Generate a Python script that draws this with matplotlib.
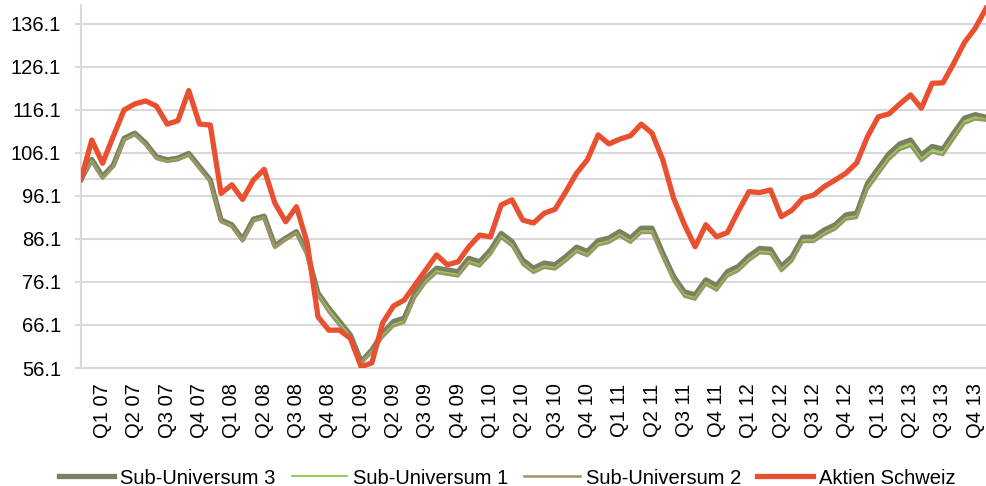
import matplotlib
matplotlib.use("Agg")
import matplotlib.pyplot as plt
import numpy as np

plt.rcParams['font.family'] = ['Liberation Sans', 'DejaVu Sans']

## monthly index values, Dec 06 = 100 ... Dec 13
aktien_schweiz = [100.0, 109.1, 103.7, 110.0, 116.1, 117.5, 118.2, 117.0, 112.8, 113.6,
                  120.6, 112.8, 112.6, 96.7, 98.7, 95.3, 99.8, 102.3, 94.4, 90.1,
                  93.6, 85.1, 68.0, 64.9, 64.9, 63.0, 56.4, 57.3,
                  66.6, 70.5, 71.9, 75.4, 78.9, 82.4, 80.1, 80.8, 84.3, 87.0,
                  86.6, 94.0, 95.2, 90.5, 89.8, 92.1, 93.0, 97.1, 101.4, 104.5,
                  110.3, 108.2, 109.3, 110.1, 112.8, 110.7, 104.5, 95.6, 89.5, 84.3,
                  89.4, 86.6, 87.6, 92.5, 97.1, 96.9, 97.5, 91.3, 92.8, 95.6,
                  96.3, 98.3, 99.8, 101.4, 103.8, 109.9, 114.5, 115.2, 117.5, 119.6,
                  116.5, 122.3, 122.4, 126.9, 131.8, 135.1, 139.7]

sub_universum_3 = [100.0, 104.6, 100.6, 103.3, 109.5, 110.7, 108.4, 105.2, 104.5, 104.9,
                   106.0, 102.9, 99.8, 90.5, 89.4, 86.0, 90.7, 91.4, 84.5, 86.3,
                   87.8, 82.8, 73.5, 70.0, 66.9, 63.8, 57.6, 60.3,
                   64.2, 66.9, 67.7, 73.5, 77.0, 79.3, 78.9, 78.5, 81.6, 80.8,
                   83.5, 87.4, 85.5, 81.2, 79.3, 80.5, 80.1, 82.0, 84.2, 83.2,
                   85.7, 86.3, 87.8, 86.3, 88.6, 88.6, 82.8, 77.4, 73.8, 73.1,
                   76.6, 75.2, 78.5, 79.7, 82.1, 83.9, 83.7, 79.7, 82.0, 86.5,
                   86.5, 88.2, 89.4, 91.7, 92.1, 99.0, 102.5, 105.9, 108.2, 109.1,
                   105.6, 107.6, 107.0, 110.7, 114.2, 115.0, 114.4]

sub_universum_1 = [100.0, 104.3, 100.3, 103.0, 109.2, 110.4, 108.1, 104.9, 104.2, 104.6,
                   105.7, 102.6, 99.5, 90.2, 89.1, 85.7, 90.4, 91.1, 84.2, 86.0,
                   87.5, 82.5, 73.2, 69.6, 66.5, 63.4, 57.3, 60.0,
                   63.6, 66.2, 67.0, 72.8, 76.3, 78.6, 78.2, 77.8, 80.9, 80.1,
                   82.8, 86.7, 84.8, 80.5, 78.6, 79.8, 79.4, 81.3, 83.5, 82.5,
                   85.0, 85.6, 87.1, 85.6, 87.9, 87.9, 82.1, 76.7, 73.1, 72.4,
                   75.9, 74.5, 77.8, 79.0, 81.4, 83.2, 83.0, 79.0, 81.3, 85.8,
                   85.8, 87.5, 88.7, 91.0, 91.4, 98.2, 101.7, 105.1, 107.4, 108.3,
                   104.8, 106.8, 106.2, 109.9, 113.5, 114.4, 113.9]

sub_universum_2 = [100.0, 104.1, 100.1, 102.8, 109.0, 110.2, 107.9, 104.7, 104.0, 104.4,
                   105.5, 102.4, 99.3, 90.0, 88.9, 85.5, 90.2, 90.9, 84.0, 85.8,
                   87.3, 82.3, 72.8, 69.0, 65.9, 62.9, 57.1, 59.7,
                   63.2, 65.8, 66.6, 72.4, 75.9, 78.2, 77.8, 77.4, 80.5, 79.7,
                   82.4, 86.3, 84.4, 80.1, 78.2, 79.4, 79.0, 80.9, 83.1, 82.1,
                   84.6, 85.2, 86.7, 85.2, 87.5, 87.5, 81.7, 76.3, 72.7, 72.0,
                   75.5, 74.1, 77.4, 78.6, 81.0, 82.8, 82.6, 78.6, 80.9, 85.4,
                   85.4, 87.1, 88.3, 90.6, 91.0, 97.6, 101.1, 104.5, 106.8, 107.7,
                   104.2, 106.2, 105.6, 109.3, 112.9, 113.9, 113.6]

quarter_labels = ["Q%d %02d" % (q, y) for y in range(7, 14) for q in range(1, 5)]
y_ticks = [56.1, 66.1, 76.1, 86.1, 96.1, 106.1, 116.1, 126.1, 136.1]

grid_col = "#d9d9d9"

fig = plt.figure(figsize=(9.86, 4.86), dpi=100)
ax = fig.add_axes([81/986, 1-368/486, 905/986, 363/486])

x = np.arange(len(aktien_schweiz))
ax.plot(x, sub_universum_3, color="#7b8062", lw=3.8, label="Sub-Universum 3", zorder=3)
ax.plot(x, sub_universum_1, color="#92d050", lw=1.4, label="Sub-Universum 1", zorder=4)
ax.plot(x, sub_universum_2, color="#9c9467", lw=1.8, label="Sub-Universum 2", zorder=4)
ax.plot(x, aktien_schweiz, color="#e8502f", lw=3.8, label="Aktien Schweiz", zorder=5)

ax.set_xlim(0, len(x) - 1)
ax.set_ylim(56.1, 140.5)
ax.set_yticks(y_ticks)
ax.set_yticklabels(["%.1f" % v for v in y_ticks])
ax.set_xticks(np.arange(2, len(x), 3))
ax.set_xticklabels(quarter_labels, rotation=90)

ax.yaxis.grid(True, color=grid_col, lw=1.5)
ax.axhline(100, color=grid_col, lw=1.5, zorder=1)
ax.set_axisbelow(True)

for s in ["top", "right"]:
    ax.spines[s].set_visible(False)
for s in ["left", "bottom"]:
    ax.spines[s].set_color(grid_col)
    ax.spines[s].set_linewidth(1.5)

ax.tick_params(axis="y", length=4.3, width=1.5, color=grid_col, pad=10, labelsize=14.5)
ax.tick_params(axis="x", length=0, pad=11, labelsize=14.5)

fig.legend(loc="center", bbox_to_anchor=(507/986, 1-478/486), ncol=4, frameon=False,
           fontsize=14.5, handlelength=2.75, handletextpad=0.3, columnspacing=0.8,
           borderaxespad=0, borderpad=0)

fig.savefig("out.png", dpi=100)
